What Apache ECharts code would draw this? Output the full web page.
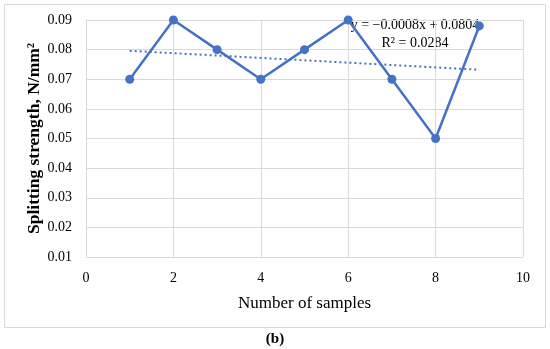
<!DOCTYPE html>
<html><head><meta charset="utf-8">
<script src="https://cdn.jsdelivr.net/npm/echarts@6/dist/echarts.min.js"></script>
<style>html,body{margin:0;padding:0;background:#fff}#c{width:550px;height:349px}</style>
</head><body><div id="c"></div>
<script>
const samples = [1,2,3,4,5,6,7,8,9];
const strength = [0.07,0.09,0.08,0.07,0.08,0.09,0.07,0.05,0.088];
const trendX = [1,9];
const trendY = [0.0796,0.0732];
const xTicks = [0,10,2];
const yTicks = [0.01,0.09,0.01];
const eqText = 'y = −0.0008x + 0.0804';
const r2Text = 'R² = 0.0284';
const FONT = '"Liberation Serif", serif';
const chart = echarts.init(document.getElementById('c'));
chart.setOption({
  animation:false,
  graphic:[
    {type:'rect',shape:{x:4.5,y:4.5,width:541,height:323},style:{fill:'none',stroke:'#d9d9d9',lineWidth:1}},
    {type:'text',x:275,y:339,style:{text:'(b)',font:'bold 15px '+FONT,fill:'#000',textAlign:'center',textVerticalAlign:'middle'}},
    {type:'text',x:415,y:25,style:{text:eqText,font:'14px '+FONT,fill:'#000',textAlign:'center',textVerticalAlign:'middle'}},
    {type:'text',x:415,y:43,style:{text:r2Text,font:'14px '+FONT,fill:'#000',textAlign:'center',textVerticalAlign:'middle'}}
  ],
  grid:{left:86,right:27,top:20,bottom:92,containLabel:false},
  xAxis:{type:'value',min:xTicks[0],max:xTicks[1],interval:xTicks[2],
    axisLine:{show:false},axisTick:{show:false},
    axisLabel:{fontFamily:FONT,fontSize:14,color:'#000',margin:14},
    splitLine:{show:true,lineStyle:{color:'#d9d9d9',width:1}},
    name:'Number of samples',nameLocation:'middle',nameGap:38,nameMoveOverlap:false,
    nameTextStyle:{fontFamily:FONT,fontSize:17,color:'#000'}},
  yAxis:{type:'value',min:yTicks[0],max:yTicks[1],interval:yTicks[2],
    axisLine:{show:true,lineStyle:{color:'#d9d9d9'}},axisTick:{show:false},
    axisLabel:{fontFamily:FONT,fontSize:14,color:'#000',margin:14,formatter:v=>v.toFixed(2)},
    splitLine:{show:true,lineStyle:{color:'#d9d9d9',width:1}},
    name:'Splitting strength, N/mm²',nameLocation:'middle',nameGap:43,nameMoveOverlap:false,
    nameTextStyle:{fontFamily:FONT,fontSize:17.5,fontWeight:'bold',color:'#000'}},
  series:[
    {type:'line',data:samples.map((x,i)=>[x,strength[i]]),symbol:'circle',symbolSize:9,
     lineStyle:{color:'#4472C4',width:2.5},itemStyle:{color:'#4472C4'}},
    {type:'line',data:trendX.map((x,i)=>[x,trendY[i]]),symbol:'none',
     lineStyle:{color:'#4472C4',width:2,type:[2,3]}}
  ]
});
</script></body></html>
